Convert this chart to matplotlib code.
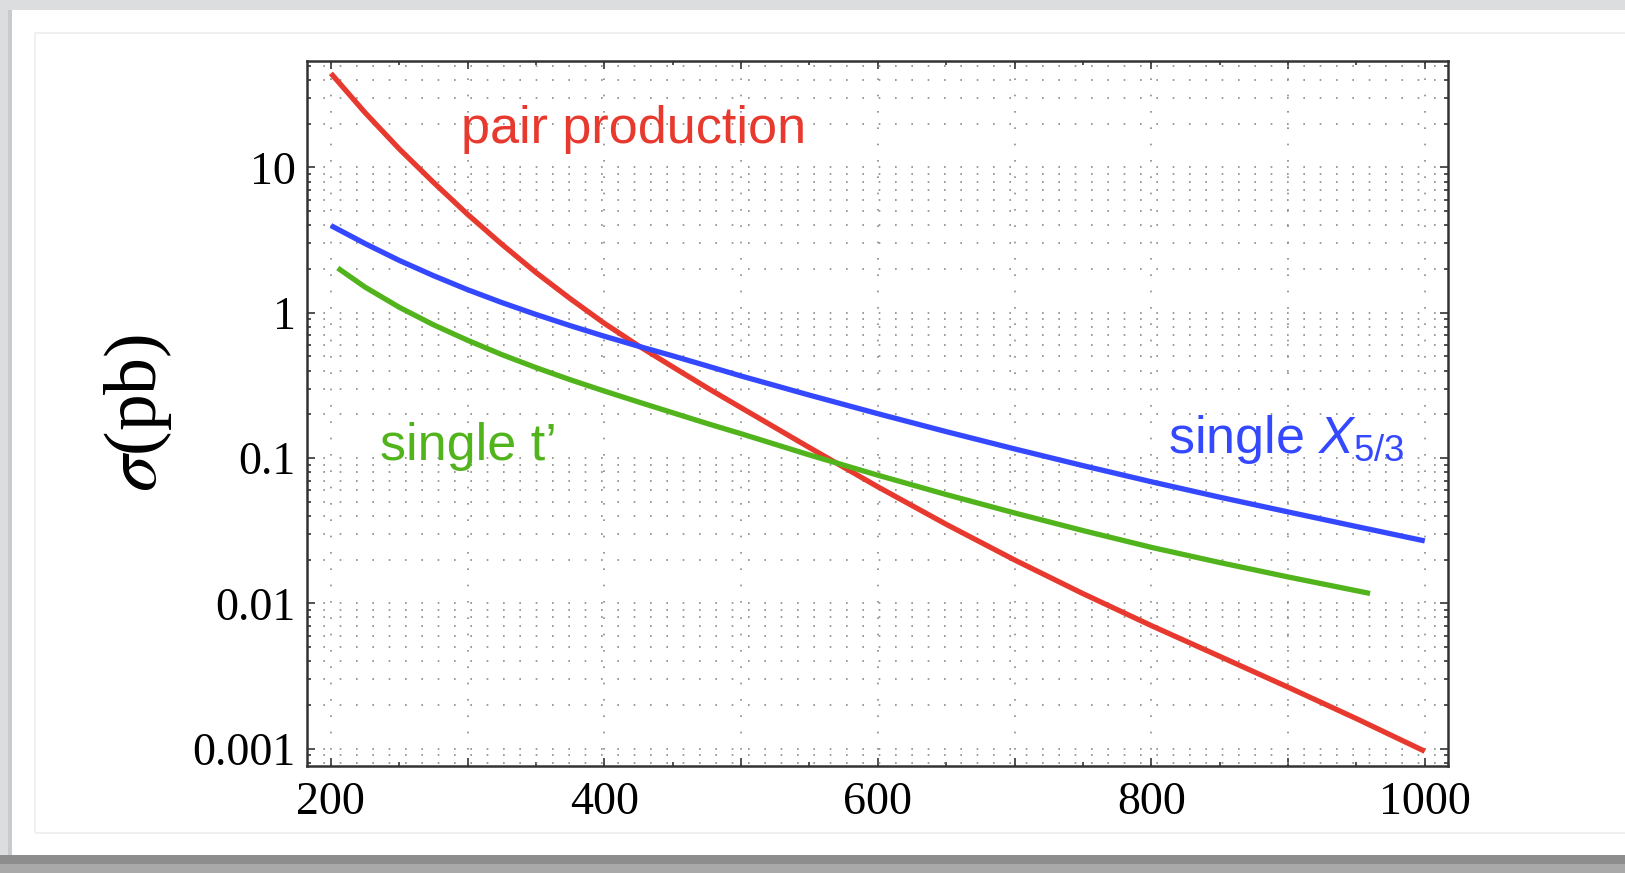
# Cross sections of pair and single production vs mass, log scale
import matplotlib.pyplot as plt
from matplotlib.patches import Rectangle
from matplotlib.ticker import MultipleLocator, FuncFormatter, LogLocator, NullFormatter

plt.rcParams['mathtext.fontset'] = 'custom'
plt.rcParams['mathtext.rm'] = 'Liberation Sans'
plt.rcParams['mathtext.it'] = 'Liberation Sans:italic'

# values
mass = [200, 225, 250, 275, 300, 325, 350, 375, 400, 425, 450, 475, 500,
        550, 600, 650, 700, 750, 800, 850, 900, 950, 1000]
pair_xsec = [44.4, 23.8, 13.4, 7.89, 4.75, 2.96, 1.89, 1.25, 0.845, 0.592, 0.424, 0.305, 0.222,
             0.118, 0.0634, 0.035, 0.0199, 0.01167, 0.00703, 0.00432, 0.00265, 0.00161, 0.00096]
x53_xsec = [3.98, 2.99, 2.29, 1.80, 1.44, 1.175, 0.973, 0.815, 0.689, 0.588, 0.505, 0.431, 0.367,
            0.271, 0.202, 0.152, 0.1156, 0.0887, 0.0687, 0.0538, 0.0426, 0.0338, 0.0269]
tprime_mass = [205, 225, 250, 275, 300, 325, 350, 375, 400, 425, 450, 475, 500,
               550, 600, 650, 700, 750, 800, 850, 900, 960]
tprime_xsec = [2.03, 1.50, 1.09, 0.826, 0.646, 0.515, 0.419, 0.346, 0.289, 0.243, 0.205, 0.173, 0.147,
               0.105, 0.0762, 0.0561, 0.0419, 0.0317, 0.0243, 0.0191, 0.0152, 0.0117]

y_ticks = [0.001, 0.01, 0.1, 1, 10]
y_tick_labels = ['0.001', '0.01', '0.1', '1', '10']
x_labelled = [200, 400, 600, 800, 1000]

RED = '#e8392f'
BLUE = '#3448ff'
GREEN = '#52b41c'

W, H = 1625, 873


def px(x0, y0, x1, y1):
    # pixel box (top-left origin) -> figure fraction rectangle args
    return (x0 / W, 1 - y1 / H), (x1 - x0) / W, (y1 - y0) / H


fig = plt.figure(figsize=(W / 100, H / 100), dpi=100)
fig.patch.set_facecolor('#dcdddf')

# screenshot frame: white card, shadows, faint inner border
for box, color in [((12, 10, W, 855), 'white'),
                   ((8, 10, 12, 855), '#c9cacc'),
                   ((0, 855, W, 864), '#8d8d8d'),
                   ((0, 864, W, H), '#a9a9a9')]:
    xy, w, h = px(*box)
    fig.patches.append(Rectangle(xy, w, h, transform=fig.transFigure,
                                 facecolor=color, edgecolor='none', zorder=-2))
xy, w, h = px(35, 33, W + 5, 833)
fig.patches.append(Rectangle(xy, w, h, transform=fig.transFigure, facecolor='none',
                             edgecolor='#ededed', lw=1.2, zorder=-1))

ax = fig.add_axes([307 / W, 1 - 766 / H, (1448 - 307) / W, (766 - 61) / H])
ax.set_facecolor('white')

ax.plot(mass, pair_xsec, color=RED, lw=3.8, solid_capstyle='butt')
ax.plot(mass, x53_xsec, color=BLUE, lw=3.8, solid_capstyle='butt')
ax.plot(tprime_mass, tprime_xsec, color=GREEN, lw=3.8, solid_capstyle='butt')

ax.set_yscale('log')
ax.set_xlim(182.5, 1017)
ax.set_ylim(7.6e-4, 54)

# ticks
ax.xaxis.set_major_locator(MultipleLocator(100))
ax.xaxis.set_minor_locator(MultipleLocator(50))
ax.xaxis.set_major_formatter(FuncFormatter(lambda v, p: '%d' % v if int(round(v)) in x_labelled else ''))
ax.set_yticks(y_ticks, y_tick_labels)
ax.yaxis.set_minor_locator(LogLocator(base=10, subs=range(2, 10)))
ax.yaxis.set_minor_formatter(NullFormatter())

for lab in ax.get_xticklabels() + ax.get_yticklabels():
    lab.set_fontfamily('Liberation Serif')
    lab.set_fontsize(33)
ax.tick_params(which='both', direction='in', top=True, right=True, width=1.2, color='#333333')
ax.tick_params(which='major', length=6)
ax.tick_params(which='minor', length=3)
ax.tick_params(axis='x', which='major', pad=11)
ax.tick_params(axis='y', which='major', pad=8)

# dotted grid
dots = (0, (1.0, 8.8))
ax.grid(True, axis='x', which='major', color='#8a8a8a', lw=1.2, linestyle=dots)
ax.grid(True, axis='y', which='both', color='#8a8a8a', lw=1.2, linestyle=dots)
ax.set_axisbelow(True)

for s in ax.spines.values():
    s.set_linewidth(1.8)
    s.set_color('#333333')

# curve labels
ax.text(295, 14.7, 'pair production', color=RED, fontsize=37.5,
        family='Liberation Sans', ha='left', va='baseline')
ax.text(236, 0.0977, 'single t\u2019', color=GREEN, fontsize=37.5,
        family='Liberation Sans', ha='left', va='baseline')
ax.text(812, 0.1087, 'single $X_{5/3}$', color=BLUE, fontsize=37.5,
        family='Liberation Sans', math_fontfamily='custom', ha='left', va='baseline')

fig.text(138 / W, 1 - 413 / H, r'$\sigma$(pb)', rotation=90, fontsize=53,
         family='Liberation Serif', math_fontfamily='stix', ha='center', va='center')

fig.savefig('out.png', dpi=100, facecolor=fig.get_facecolor())
